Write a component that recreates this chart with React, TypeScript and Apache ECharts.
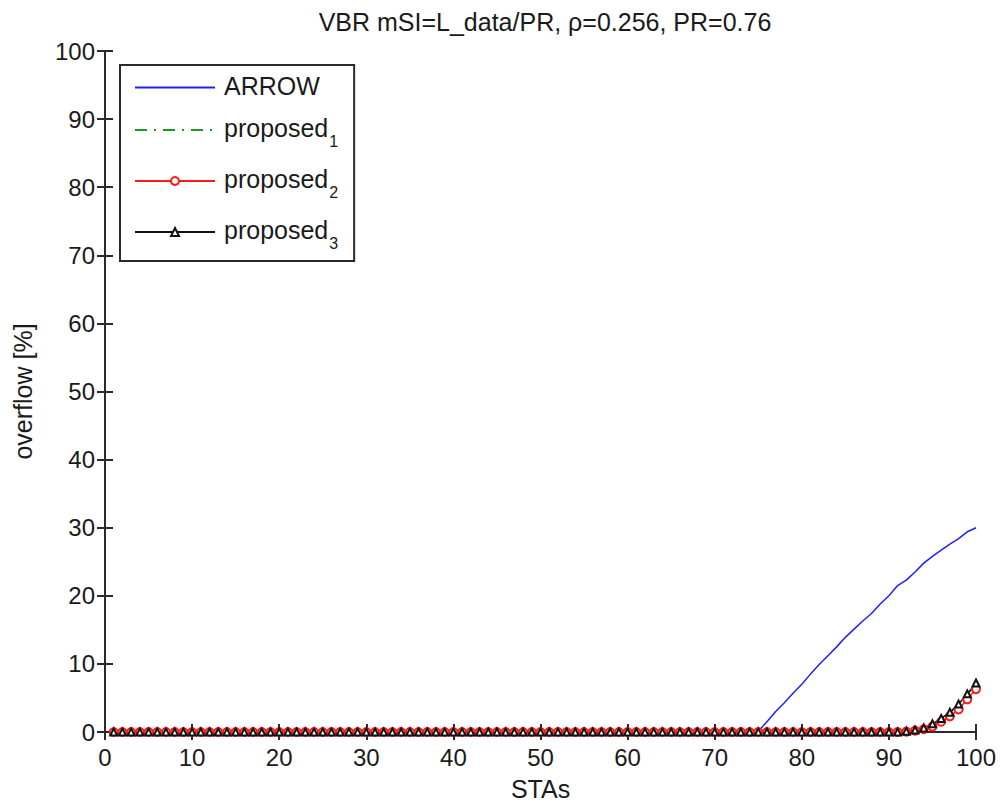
import React, { useEffect, useRef } from "react";
import * as echarts from "echarts";

const STAs = [
  1, 2, 3, 4, 5, 6, 7, 8, 9, 10,
  11, 12, 13, 14, 15, 16, 17, 18, 19, 20,
  21, 22, 23, 24, 25, 26, 27, 28, 29, 30,
  31, 32, 33, 34, 35, 36, 37, 38, 39, 40,
  41, 42, 43, 44, 45, 46, 47, 48, 49, 50,
  51, 52, 53, 54, 55, 56, 57, 58, 59, 60,
  61, 62, 63, 64, 65, 66, 67, 68, 69, 70,
  71, 72, 73, 74, 75, 76, 77, 78, 79, 80,
  81, 82, 83, 84, 85, 86, 87, 88, 89, 90,
  91, 92, 93, 94, 95, 96, 97, 98, 99, 100,
];

const arrow = [
  0, 0, 0, 0, 0, 0, 0, 0, 0, 0,
  0, 0, 0, 0, 0, 0, 0, 0, 0, 0,
  0, 0, 0, 0, 0, 0, 0, 0, 0, 0,
  0, 0, 0, 0, 0, 0, 0, 0, 0, 0,
  0, 0, 0, 0, 0, 0, 0, 0, 0, 0,
  0, 0, 0, 0, 0, 0, 0, 0, 0, 0,
  0, 0, 0, 0, 0, 0, 0, 0, 0, 0,
  0, 0, 0, 0, 0.1, 1.5, 3.0, 4.3, 5.7, 7.0,
  8.5, 9.9, 11.2, 12.5, 13.9, 15.1, 16.3, 17.4, 18.8, 20.0,
  21.5, 22.3, 23.5, 24.8, 25.8, 26.7, 27.6, 28.4, 29.4, 30.0,
];

const proposed1 = [
  0, 0, 0, 0, 0, 0, 0, 0, 0, 0,
  0, 0, 0, 0, 0, 0, 0, 0, 0, 0,
  0, 0, 0, 0, 0, 0, 0, 0, 0, 0,
  0, 0, 0, 0, 0, 0, 0, 0, 0, 0,
  0, 0, 0, 0, 0, 0, 0, 0, 0, 0,
  0, 0, 0, 0, 0, 0, 0, 0, 0, 0,
  0, 0, 0, 0, 0, 0, 0, 0, 0, 0,
  0, 0, 0, 0, 0, 0, 0, 0, 0, 0,
  0, 0, 0, 0, 0, 0, 0, 0, 0, 0,
  0, 0.1, 0.3, 0.6, 1.1, 1.9, 2.8, 4.0, 5.5, 7.0,
];

const proposed2 = [
  0, 0, 0, 0, 0, 0, 0, 0, 0, 0,
  0, 0, 0, 0, 0, 0, 0, 0, 0, 0,
  0, 0, 0, 0, 0, 0, 0, 0, 0, 0,
  0, 0, 0, 0, 0, 0, 0, 0, 0, 0,
  0, 0, 0, 0, 0, 0, 0, 0, 0, 0,
  0, 0, 0, 0, 0, 0, 0, 0, 0, 0,
  0, 0, 0, 0, 0, 0, 0, 0, 0, 0,
  0, 0, 0, 0, 0, 0, 0, 0, 0, 0,
  0, 0, 0, 0, 0, 0, 0, 0, 0, 0,
  0, 0.05, 0.2, 0.4, 0.8, 1.5, 2.3, 3.3, 4.8, 6.3,
];

const proposed3 = [
  0, 0, 0, 0, 0, 0, 0, 0, 0, 0,
  0, 0, 0, 0, 0, 0, 0, 0, 0, 0,
  0, 0, 0, 0, 0, 0, 0, 0, 0, 0,
  0, 0, 0, 0, 0, 0, 0, 0, 0, 0,
  0, 0, 0, 0, 0, 0, 0, 0, 0, 0,
  0, 0, 0, 0, 0, 0, 0, 0, 0, 0,
  0, 0, 0, 0, 0, 0, 0, 0, 0, 0,
  0, 0, 0, 0, 0, 0, 0, 0, 0, 0,
  0, 0, 0, 0, 0, 0, 0, 0, 0, 0,
  0, 0.1, 0.3, 0.6, 1.2, 2.0, 2.9, 4.1, 5.6, 7.2,
];

const seriesNames = ["ARROW", "proposed1", "proposed2", "proposed3"];
const titleText = "VBR mSI=L_data/PR, \u03C1=0.256, PR=0.76";
const xName = "STAs";
const yName = "overflow [%]";

const FONT = 'Arial, "Liberation Sans", Helvetica, sans-serif';
const TXT = "#1a1a1a";
const AX = "#2a2a2a";

const pairs = (ys: number[]) => STAs.map((x, i) => [x, ys[i]]);

export default function App() {
  const ref = useRef<HTMLDivElement>(null);
  useEffect(() => {
    const chart = echarts.init(ref.current!, null, { renderer: "svg" });
    const axisCommon = {
      type: "value" as const,
      min: 0,
      max: 100,
      interval: 10,
      splitLine: { show: false },
      axisLine: { show: true, lineStyle: { color: AX, width: 2 } },
      axisTick: { show: true, inside: true, length: 8, lineStyle: { color: AX, width: 2 } },
    };
    chart.setOption({
      animation: false,
      backgroundColor: "#fff",
      title: {
        text: titleText,
        left: 540,
        textAlign: "center",
        top: 4,
        textStyle: { fontFamily: FONT, fontSize: 25, fontWeight: "normal", color: TXT },
      },
      grid: { left: 105, right: 25, top: 51, bottom: 78 },
      legend: {
        orient: "vertical",
        left: 120,
        top: 65,
        padding: [8, 16, 10, 14],
        itemGap: 17,
        itemWidth: 80,
        itemHeight: 10,
        borderColor: AX,
        borderWidth: 2,
        backgroundColor: "#fff",
        selectedMode: false,
        data: [
          { name: seriesNames[0], itemStyle: { opacity: 0 } },
          { name: seriesNames[1], itemStyle: { opacity: 0 } },
          { name: seriesNames[2] },
          { name: seriesNames[3] },
        ],
        formatter: (name: string) =>
          name === "ARROW" ? "{a|ARROW}" : `{n|proposed}{s|${name.slice(-1)}}`,
        textStyle: {
          fontFamily: FONT,
          fontSize: 25,
          color: TXT,
          padding: [0, 0, 0, 4],
          rich: {
            a: { fontFamily: FONT, fontSize: 25, color: TXT, padding: [0, 0, 4, 0] },
            n: { fontFamily: FONT, fontSize: 25, color: TXT, padding: [0, 0, 5, 0] },
            s: { fontFamily: FONT, fontSize: 16, color: TXT, padding: [22, 0, 0, 1] },
          },
        },
      },
      xAxis: [
        {
          ...axisCommon,
          position: "bottom",
          name: xName,
          nameLocation: "middle",
          nameGap: 44,
          nameTextStyle: { fontFamily: FONT, fontSize: 25, color: TXT },
          axisLabel: { fontFamily: FONT, fontSize: 24, color: TXT, margin: 13 },
        },
        {
          ...axisCommon,
          position: "top",
          axisLabel: { show: false },
        },
      ],
      yAxis: [
        {
          ...axisCommon,
          position: "left",
          name: yName,
          nameLocation: "middle",
          nameGap: 70,
          nameTextStyle: { fontFamily: FONT, fontSize: 25, color: TXT },
          axisLabel: { fontFamily: FONT, fontSize: 24, color: TXT, margin: 10 },
        },
        {
          ...axisCommon,
          position: "right",
          axisLabel: { show: false },
        },
      ],
      series: [
        {
          name: seriesNames[0],
          type: "line",
          data: pairs(arrow),
          symbol: "none",
          lineStyle: { color: "#1f1fff", width: 1.5 },
          itemStyle: { color: "#1f1fff" },
        },
        {
          name: seriesNames[1],
          type: "line",
          data: pairs(proposed1),
          symbol: "none",
          lineStyle: { color: "#1a991a", width: 1.5, type: [12, 7, 2, 7] },
          itemStyle: { color: "#1a991a" },
        },
        {
          name: seriesNames[2],
          type: "line",
          data: pairs(proposed2),
          symbol: "emptyCircle",
          symbolSize: 8,
          showAllSymbol: true,
          lineStyle: { color: "#ff1a1a", width: 1.5 },
          itemStyle: { color: "#ff1a1a", borderColor: "#ff1a1a", borderWidth: 1.5 },
        },
        {
          name: seriesNames[3],
          type: "line",
          data: pairs(proposed3),
          symbol: "emptyTriangle",
          symbolSize: 7,
          showAllSymbol: true,
          lineStyle: { color: "#111", width: 1.5 },
          itemStyle: { color: "#111", borderColor: "#111", borderWidth: 1.3 },
        },
      ],
    });
    return () => chart.dispose();
  }, []);
  return (
    <div
      ref={ref}
      style={{ position: "absolute", left: 0, top: 0, width: 1001, height: 810, background: "#fff" }}
    />
  );
}
